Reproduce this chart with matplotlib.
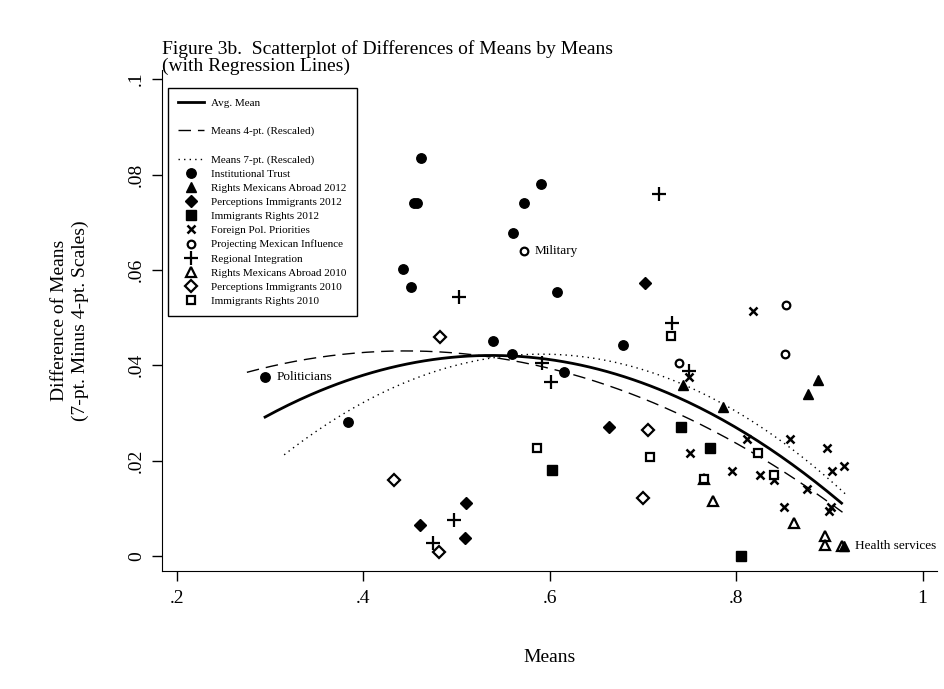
import numpy as np
import matplotlib
matplotlib.use("Agg")
import matplotlib.pyplot as plt
from matplotlib.lines import Line2D

plt.rcParams['font.family'] = ['Liberation Serif', 'DejaVu Serif']

# scatter groups: (means, difference of means)
trust_x = [0.2945, 0.383, 0.443, 0.451, 0.454, 0.458, 0.462, 0.539, 0.559, 0.561, 0.572, 0.590, 0.608, 0.615, 0.678]
trust_y = [0.0376, 0.0282, 0.0601, 0.0564, 0.0741, 0.0741, 0.0835, 0.0451, 0.0424, 0.0677, 0.0741, 0.0780, 0.0553, 0.0387, 0.0442]

rights12_x = [0.743, 0.786, 0.877, 0.888, 0.916]
rights12_y = [0.0358, 0.0312, 0.0341, 0.0369, 0.0021]

percep12_x = [0.461, 0.509, 0.510, 0.664, 0.702]
percep12_y = [0.0065, 0.0039, 0.0112, 0.0271, 0.0572]

immig12_x = [0.602, 0.741, 0.772, 0.805]
immig12_y = [0.0180, 0.0271, 0.0226, 0.0000]

foreign_x = [0.749, 0.750, 0.795, 0.812, 0.818, 0.825, 0.841, 0.851, 0.858, 0.876, 0.897, 0.900, 0.902, 0.903, 0.916]
foreign_y = [0.0376, 0.0217, 0.0179, 0.0245, 0.0515, 0.0170, 0.0160, 0.0103, 0.0246, 0.0141, 0.0227, 0.0095, 0.0103, 0.0179, 0.0189]

project_x = [0.572, 0.739, 0.852, 0.853]
project_y = [0.0639, 0.0406, 0.0423, 0.0527]

regional_x = [0.475, 0.497, 0.503, 0.592, 0.601, 0.717, 0.731, 0.749]
regional_y = [0.0028, 0.0076, 0.0543, 0.0404, 0.0366, 0.0759, 0.0488, 0.0388]

rights10_x = [0.765, 0.775, 0.862, 0.895, 0.895, 0.914]
rights10_y = [0.0161, 0.0115, 0.0070, 0.0042, 0.0023, 0.0021]

percep10_x = [0.433, 0.481, 0.482, 0.700, 0.705]
percep10_y = [0.0160, 0.0009, 0.0460, 0.0123, 0.0264]

immig10_x = [0.586, 0.708, 0.730, 0.765, 0.823, 0.841]
immig10_y = [0.0227, 0.0208, 0.0461, 0.0161, 0.0217, 0.0170]

# points
avg_fit_x = [0.2945, 0.386, 0.418, 0.490, 0.559, 0.611, 0.633, 0.705, 0.783, 0.808, 0.862, 0.913]
avg_fit_y = [0.0293, 0.0369, 0.0390, 0.0414, 0.0422, 0.0408, 0.0397, 0.0362, 0.0303, 0.0251, 0.0180, 0.0116]
fit4_x = [0.275, 0.418, 0.559, 0.622, 0.669, 0.720, 0.826, 0.914]
fit4_y = [0.0383, 0.0428, 0.0421, 0.0383, 0.0362, 0.0299, 0.0195, 0.0103]
fit7_x = [0.315, 0.377, 0.418, 0.611, 0.740, 0.829, 0.919]
fit7_y = [0.0212, 0.0293, 0.0348, 0.0412, 0.0373, 0.0265, 0.0126]

labels = ['Politicians', 'Military', 'Health services']
label_x = [0.2945, 0.572, 0.916]
label_y = [0.0376, 0.0639, 0.0021]

xticks = [0.2, 0.4, 0.6, 0.8, 1.0]
xticklabels = ['.2', '.4', '.6', '.8', '1']
yticks = [0, 0.02, 0.04, 0.06, 0.08, 0.1]
yticklabels = ['0', '.02', '.04', '.06', '.08', '.1']


def quad_curve(xs, ys):
    c = np.polyfit(xs, ys, 2)
    gx = np.linspace(min(xs), max(xs), 200)
    return gx, np.polyval(c, gx)


fig = plt.figure(figsize=(9.44, 6.89), dpi=100)
ax = fig.add_axes([0.1712, 0.1713, 0.821, 0.727])

groups = [
    (trust_x, trust_y, dict(marker='o', color='black', markersize=6.8), 'Institutional Trust'),
    (rights12_x, rights12_y, dict(marker='^', color='black', markersize=7.8), 'Rights Mexicans Abroad 2012'),
    (percep12_x, percep12_y, dict(marker='D', color='black', markersize=6.5), 'Perceptions Immigrants 2012'),
    (immig12_x, immig12_y, dict(marker='s', color='black', markersize=6.5), 'Immigrants Rights 2012'),
    (foreign_x, foreign_y, dict(marker='x', color='black', markersize=5.5, markeredgewidth=1.8), 'Foreign Pol. Priorities'),
    (project_x, project_y, dict(marker='o', color='black', markerfacecolor='white', markersize=5.5, markeredgewidth=1.6), 'Projecting Mexican Influence'),
    (regional_x, regional_y, dict(marker='+', color='black', markersize=10, markeredgewidth=1.6), 'Regional Integration'),
    (rights10_x, rights10_y, dict(marker='^', color='black', markerfacecolor='white', markersize=7, markeredgewidth=1.6), 'Rights Mexicans Abroad 2010'),
    (percep10_x, percep10_y, dict(marker='D', color='black', markerfacecolor='white', markersize=6, markeredgewidth=1.6), 'Perceptions Immigrants 2010'),
    (immig10_x, immig10_y, dict(marker='s', color='black', markerfacecolor='white', markersize=6, markeredgewidth=1.6), 'Immigrants Rights 2010'),
]

marker_handles = []
for i, (xs, ys, style, name) in enumerate(groups):
    z = 4 if i == 1 else 3
    ax.plot(xs, ys, linestyle='none', zorder=z, **style)
    marker_handles.append(Line2D([], [], linestyle='none', label=name, **style))

gx, gy = quad_curve(avg_fit_x, avg_fit_y)
ax.plot(gx, gy, color='black', lw=2.0, zorder=2)
gx, gy = quad_curve(fit4_x, fit4_y)
ax.plot(gx, gy, color='black', lw=1.0, dashes=(9, 5), zorder=2)
gx, gy = quad_curve(fit7_x, fit7_y)
ax.plot(gx, gy, color='black', lw=1.0, dashes=(1, 3), zorder=2)

for name, lx, ly in zip(labels, label_x, label_y):
    ax.annotate(name, (lx, ly), xytext=(8, 0), textcoords='offset points',
                va='center', ha='left', fontsize=9.5)

blank = Line2D([], [], linestyle='none', label=' ')
handles = [
    Line2D([], [], color='black', lw=2.0, label='Avg. Mean'), blank,
    Line2D([], [], color='black', lw=1.0, dashes=(9, 5), label='Means 4-pt. (Rescaled)'), blank,
    Line2D([], [], color='black', lw=1.0, dashes=(1, 3), label='Means 7-pt. (Rescaled)'),
] + marker_handles
leg = ax.legend(handles=handles, loc='upper left', bbox_to_anchor=(0.008, 0.964),
                borderaxespad=0, fontsize=8, frameon=True, fancybox=False,
                edgecolor='black', framealpha=1, labelspacing=0.39,
                handlelength=2.4, handletextpad=0.6, borderpad=0.9)
leg.get_frame().set_linewidth(1.0)
leg.set_zorder(5)

ax.set_xlim(0.1835, 1.015)
ax.set_ylim(-0.0031, 0.1019)
ax.set_xticks(xticks)
ax.set_xticklabels(xticklabels, fontsize=14)
ax.set_yticks(yticks)
ax.set_yticklabels(yticklabels, fontsize=14, rotation=90, va='center')
ax.tick_params(direction='out', length=7, width=1, pad=5)
ax.tick_params(axis='x', pad=7)
for s in ['top', 'right']:
    ax.spines[s].set_visible(False)
ax.set_xlabel('Means', fontsize=14, labelpad=30)
ax.set_ylabel('Difference of Means\n(7-pt. Minus 4-pt. Scales)', fontsize=14,
              labelpad=28, linespacing=1.3)

fig.text(0.1712, 0.891, 'Figure 3b.  Scatterplot of Differences of Means by Means\n(with Regression Lines)',
         fontsize=14, ha='left', va='bottom', linespacing=1.0)

fig.savefig('out.png', dpi=100)
